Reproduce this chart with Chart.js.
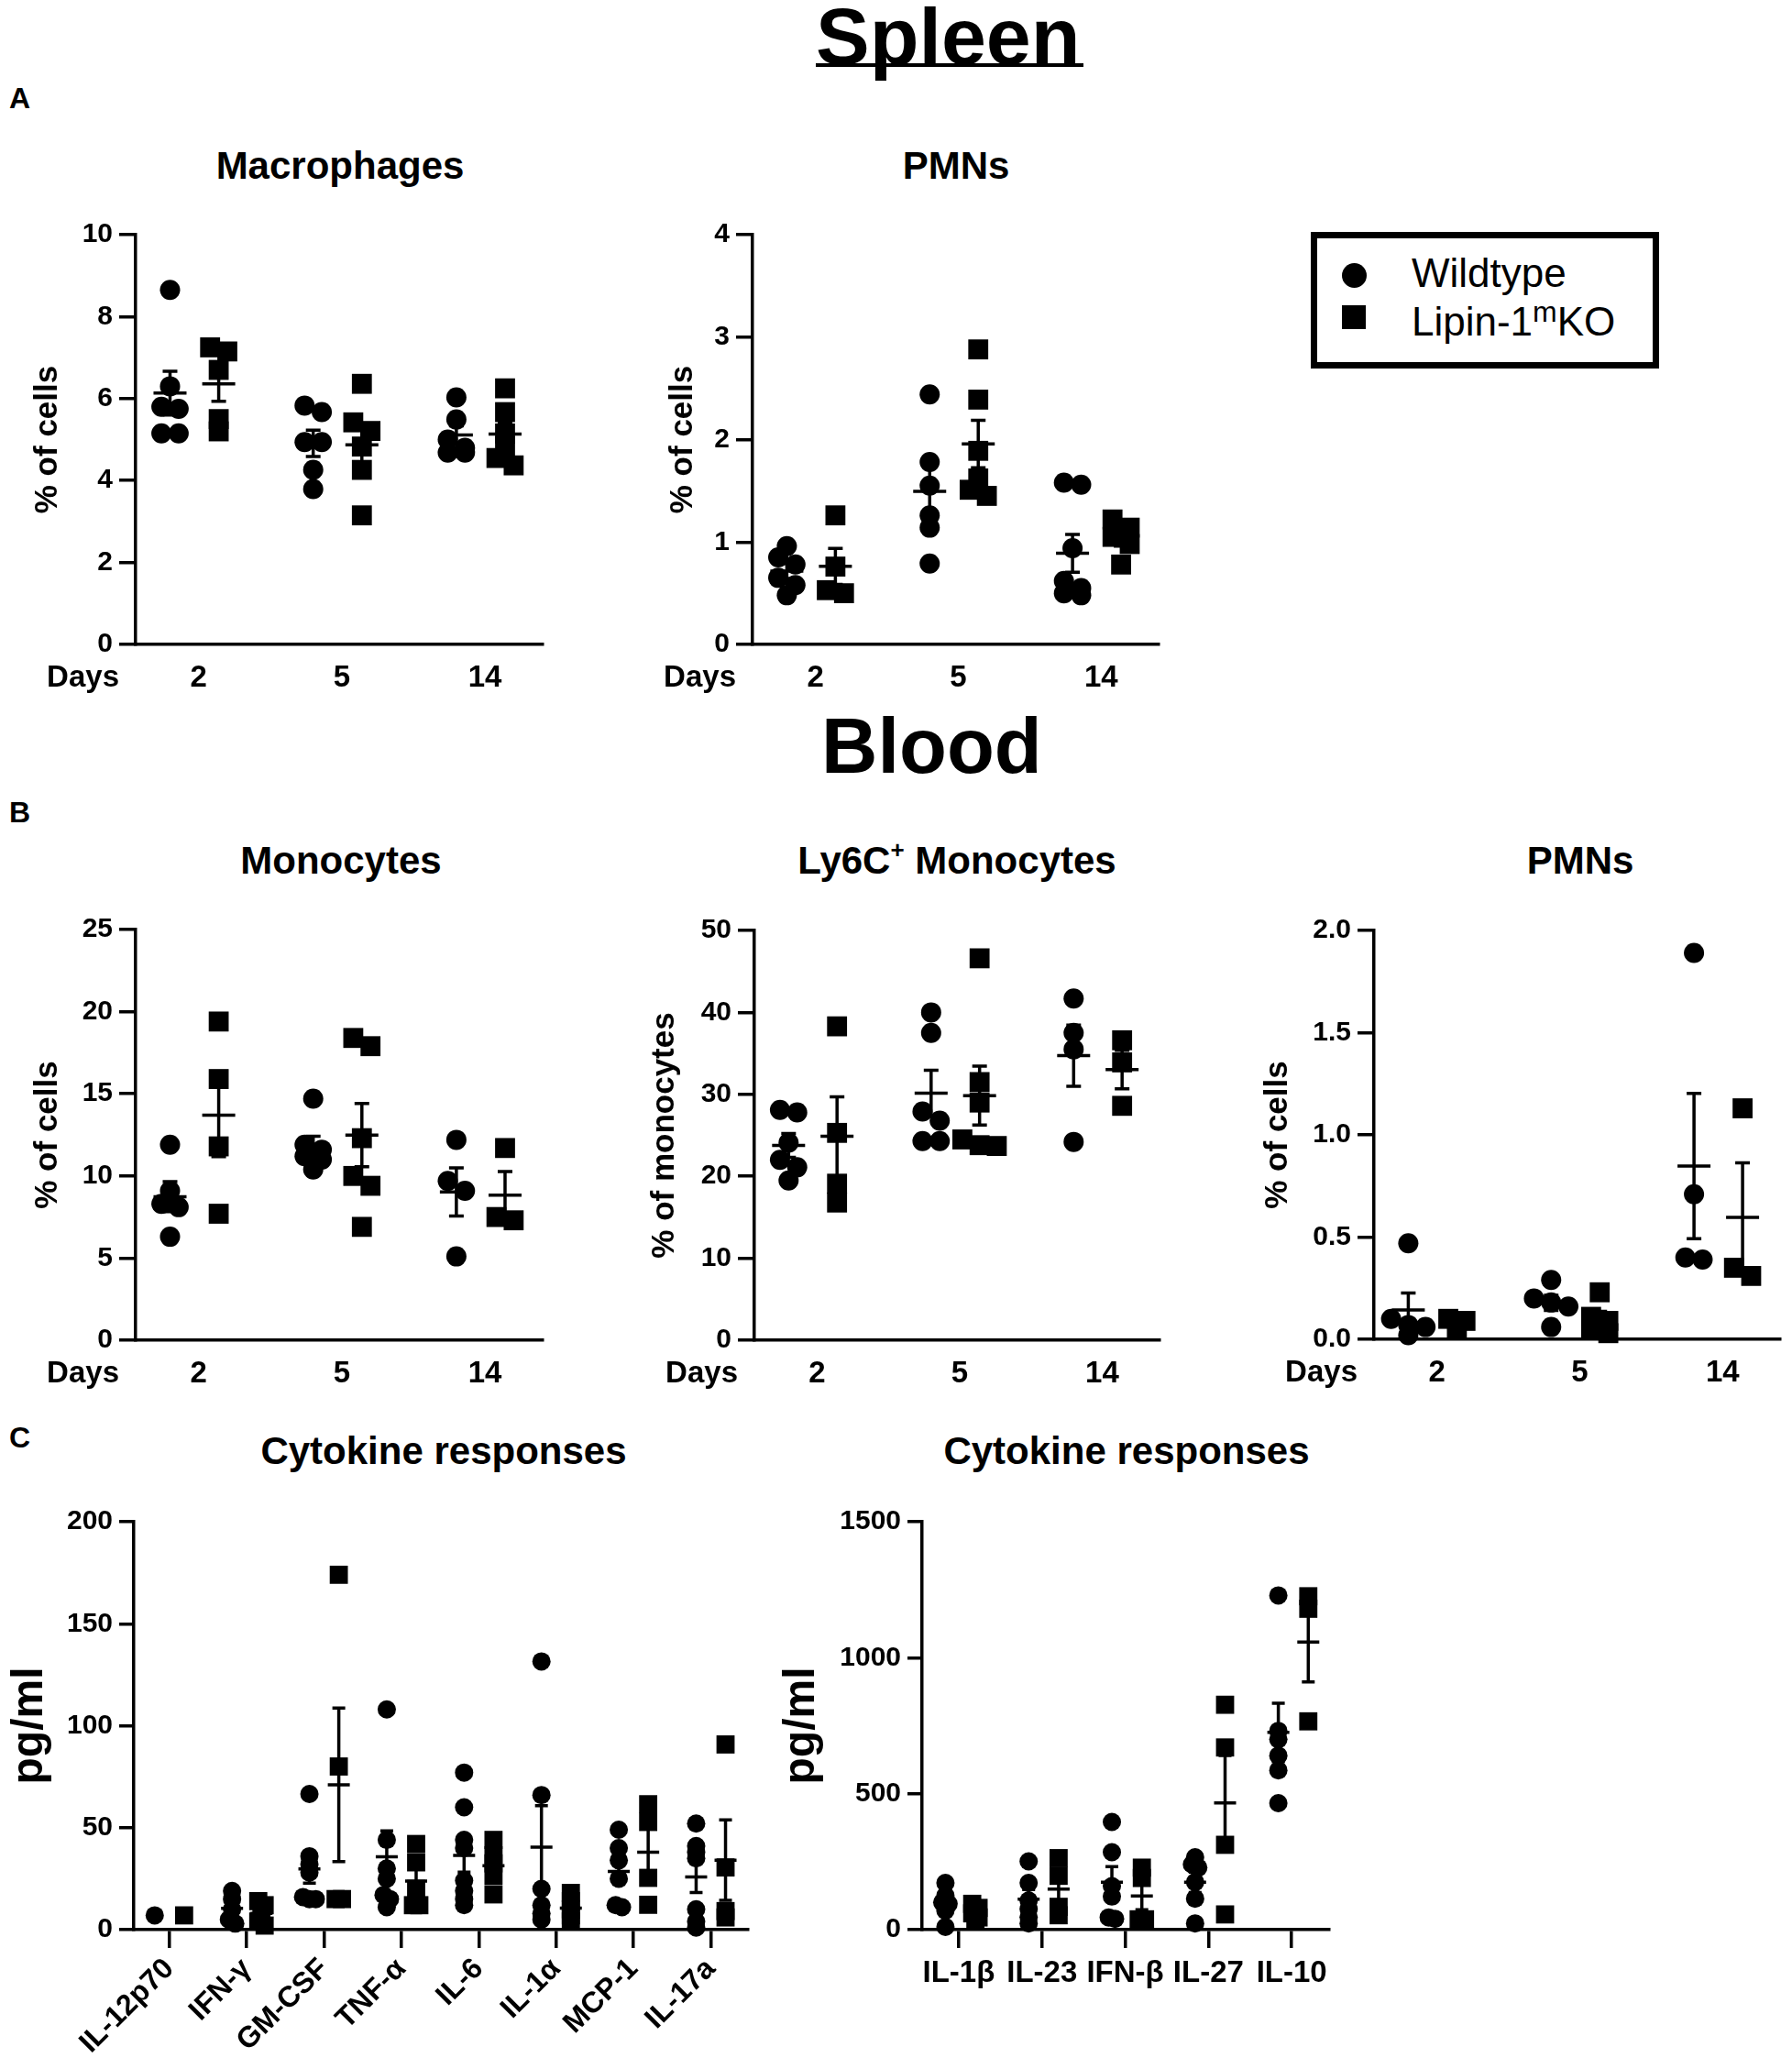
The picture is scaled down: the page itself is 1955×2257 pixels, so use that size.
<!DOCTYPE html>
<html>
<head>
<meta charset="utf-8">
<title>Spleen / Blood / Cytokines</title>
<script src="https://cdn.jsdelivr.net/npm/chart.js@4.4.1/dist/chart.umd.min.js"></script>
<style>
  body { margin: 0; background: #fff; }
  #page { position: relative; width: 1955px; height: 2257px; overflow: hidden; background: #fff;
          font-family: "Liberation Sans", Arial, sans-serif; color: #000; }
  #legend { position: absolute; left: 1430px; top: 253px; width: 380px; height: 149px;
            box-sizing: border-box; border: 7px solid #000; background: #fff; }
  #legend .dot { position: absolute; left: 27px; top: 27px; width: 27px; height: 27px; border-radius: 50%; background: #000; }
  #legend .sq { position: absolute; left: 27px; top: 73px; width: 26px; height: 26px; background: #000; }
  #legend .txt { position: absolute; left: 103px; font-size: 44px; line-height: 1; white-space: nowrap; }
</style>
</head>
<body>
<div id="page">
  <div id="legend">
    <span class="dot"></span>
    <div class="txt" style="top:16px">Wildtype</div>
    <span class="sq"></span>
    <div class="txt" style="top:69px">Lipin-1<span style="font-size:32px;position:relative;top:-15px">m</span>KO</div>
  </div>
</div>
<script>
// ---- data ----
const dayLabels = ['2', '5', '14'];

// Spleen: macrophages (% of cells)
const macroWT = [[8.65, 6.3, 5.8, 5.75, 5.15, 5.15], [5.83, 5.67, 4.94, 4.94, 4.26, 3.79], [6.03, 5.49, 5.0, 4.8, 4.68, 4.68]];
const macroKO = [[7.25, 7.15, 6.7, 5.5, 5.2], [6.36, 5.42, 5.21, 4.83, 4.26, 3.15], [6.25, 5.67, 5.15, 4.83, 4.55, 4.37]];

// Spleen: PMNs (% of cells)
const spleenPmnWT = [[0.96, 0.85, 0.78, 0.65, 0.58, 0.48], [2.44, 1.78, 1.55, 1.26, 1.14, 0.79], [1.58, 1.56, 0.94, 0.62, 0.55, 0.5, 0.48]];
const spleenPmnKO = [[1.26, 0.76, 0.53, 0.5], [2.88, 2.39, 1.89, 1.62, 1.51, 1.45], [1.22, 1.14, 1.05, 0.98, 0.78]];

// Blood: monocytes (% of cells)
const monoWT = [[11.9, 9.1, 8.3, 8.1, 6.3], [14.7, 11.9, 11.6, 11.2, 11.0, 10.4], [12.2, 9.7, 9.1, 5.1]];
const monoKO = [[19.4, 15.9, 11.8, 7.7], [18.4, 17.9, 12.3, 10.0, 9.4, 6.9], [11.7, 7.5, 7.3]];

// Blood: Ly6C+ monocytes (% of monocytes)
const ly6cWT = [[28.1, 27.8, 24.1, 22.0, 21.1, 19.5], [40.0, 37.5, 27.9, 26.8, 24.3, 24.3], [41.7, 37.5, 35.5, 24.2]];
const ly6cKO = [[38.3, 25.3, 19.1, 16.8], [46.6, 31.5, 29.0, 24.5, 23.8, 23.7], [36.6, 33.9, 28.6]];

// Blood: PMNs (% of cells)
const bloodPmnWT = [[0.47, 0.1, 0.07, 0.06, 0.02], [0.29, 0.2, 0.18, 0.16, 0.06], [1.89, 0.71, 0.4, 0.39]];
const bloodPmnKO = [[0.1, 0.09, 0.05], [0.23, 0.11, 0.09, 0.05, 0.03], [1.13, 0.35, 0.31]];

// Cytokines (pg/ml)
const cytoLeftLabels = ['IL-12p70', 'IFN-\u03b3', 'GM-CSF', 'TNF-\u03b1', 'IL-6', 'IL-1\u03b1', 'MCP-1', 'IL-17a'];
const cytoLeftWT = [[7], [19, 15, 10, 5, 3], [66.5, 36, 32, 28, 16, 15, 15], [108, 44, 30, 25, 17, 15, 11],
                    [77, 60, 44, 40, 24, 19, 15, 12], [131.5, 66, 20, 12, 8, 5], [49, 40, 34, 25, 12, 11], [52, 41, 38, 35, 10, 4, 1]];
const cytoLeftKO = [[7], [14, 12, 8, 4, 2], [174, 80, 15, 15], [42, 33, 20, 12, 12],
                    [44, 36.5, 32.5, 26.4, 17.3], [18, 14, 10, 7, 4], [61.5, 52.8, 25.4, 12.2], [90.8, 30.5, 9.1, 6]];

const cytoRightLabels = ['IL-1\u03b2', 'IL-23', 'IFN-\u03b2', 'IL-27', 'IL-10'];
const cytoRightWT = [[172, 125, 100, 95, 70, 10], [251, 172, 107, 76, 46, 23], [396, 285, 160, 122, 45, 40],
                     [266, 240, 228, 175, 114, 23], [1229, 731, 700, 640, 586, 465]];
const cytoRightKO = [[95, 80, 60, 45, 35], [263, 198, 84, 53], [228, 190, 38, 38], [827, 670, 312, 56], [1226, 1180, 766]];

// ---- helpers ----
const FONT = '"Liberation Sans", Arial, sans-serif';
Chart.defaults.font.family = FONT;
Chart.defaults.color = '#000';
const page = document.getElementById('page');

function mean(a) { return a.reduce((s, v) => s + v, 0) / a.length; }
function sem(a) {
  if (a.length < 2) return 0;
  const m = mean(a);
  const v = a.reduce((s, x) => s + (x - m) * (x - m), 0) / (a.length - 1);
  return Math.sqrt(v / a.length);
}

// points with (almost) the same value go side by side in a centred row
function spreadOffsets(values, pxX, pxY, bin, step) {
  const order = values.map((v, i) => i).sort((a, b) => values[b] - values[a]);
  const offs = values.map(() => 0);
  let row = [];
  const flush = () => {
    row.forEach((idx, k) => { offs[idx] = (k - (row.length - 1) / 2) * step / pxX; });
    row = [];
  };
  order.forEach(idx => {
    if (row.length && (values[row[0]] - values[idx]) * pxY >= bin) flush();
    row.push(idx);
  });
  flush();
  return offs;
}

function buildPoints(groups, center, p, pxX, pxY) {
  const pts = [];
  groups.forEach((vals, i) => {
    const offs = spreadOffsets(vals, pxX, pxY, p.bin, p.step);
    vals.forEach((v, j) => pts.push({ x: i + center + offs[j], y: v }));
  });
  return pts;
}

function addText(html, x, base, size, bold, center) {
  const d = document.createElement('div');
  d.innerHTML = html;
  d.style.cssText = 'position:absolute;white-space:nowrap;line-height:1;' +
    'font-size:' + size + 'px;font-weight:' + (bold ? 'bold' : 'normal') + ';' +
    'top:' + (base - 0.8465 * size) + 'px;left:' + x + 'px;' +
    (center ? 'transform:translateX(-50%);' : '');
  page.appendChild(d);
  return d;
}

// mean line + SEM whiskers
const meanSemPlugin = {
  id: 'meanSem',
  afterDatasetsDraw(chart, args, opts) {
    const { ctx } = chart;
    const xs = chart.scales.x, ys = chart.scales.y;
    ctx.save();
    ctx.strokeStyle = '#000';
    ctx.lineWidth = opts.width;
    chart.data.datasets.forEach(ds => {
      ds.groups.forEach((vals, i) => {
        if (vals.length < 2) return;
        const m = mean(vals), e = sem(vals);
        const px = xs.getPixelForValue(i + ds.center);
        const pm = ys.getPixelForValue(m);
        const pt = ys.getPixelForValue(m + e);
        const pb = ys.getPixelForValue(Math.max(m - e, 0));
        ctx.beginPath();
        ctx.moveTo(px - opts.half, pm); ctx.lineTo(px + opts.half, pm);
        ctx.moveTo(px, pt); ctx.lineTo(px, pb);
        ctx.moveTo(px - opts.cap, pt); ctx.lineTo(px + opts.cap, pt);
        ctx.moveTo(px - opts.cap, pb); ctx.lineTo(px + opts.cap, pb);
        ctx.stroke();
      });
    });
    ctx.restore();
  }
};

// "Days" caption left of the x tick labels
const daysPlugin = {
  id: 'daysLabel',
  afterDraw(chart, args, opts) {
    if (!opts.text) return;
    const { ctx, chartArea } = chart;
    ctx.save();
    ctx.font = 'bold 33px ' + FONT;
    ctx.fillStyle = '#000';
    ctx.textAlign = 'right';
    ctx.textBaseline = 'middle';
    ctx.fillText(opts.text, chartArea.left - 18, chartArea.bottom + 37);
    ctx.restore();
  }
};

function makePanel(p) {
  const padTop = 24, padRight = 10;
  const yTitleSize = p.yTitleSize || 35;
  const left = Math.round(p.yTitleCx - yTitleSize * 0.6);
  const yw = p.ax - left;
  const canvasTop = p.top - padTop;
  const W = Math.round(p.right - left + padRight);
  const H = Math.round(p.bottom + p.xh - canvasTop);

  const cv = document.createElement('canvas');
  cv.width = W; cv.height = H;
  cv.style.cssText = 'position:absolute;left:' + left + 'px;top:' + canvasTop + 'px;width:' + W + 'px;height:' + H + 'px;';
  page.appendChild(cv);

  addText(p.title, p.titleCx, p.titleBase, 42, true, true);

  const pxX = (p.right - p.ax) / (p.xMax - p.xMin);
  const pxY = (p.bottom - p.top) / p.yMax;

  new Chart(cv.getContext('2d'), {
    type: 'scatter',
    data: {
      datasets: [
        { label: 'Wildtype', data: buildPoints(p.wt, p.wtPos, p, pxX, pxY), groups: p.wt, center: p.wtPos,
          pointStyle: 'circle', pointRadius: p.r, pointHoverRadius: p.r, backgroundColor: '#000', borderWidth: 0, clip: false },
        { label: 'Lipin-1mKO', data: buildPoints(p.ko, p.koPos, p, pxX, pxY), groups: p.ko, center: p.koPos,
          pointStyle: 'rect', pointRadius: p.r * 1.4, pointHoverRadius: p.r * 1.4, backgroundColor: '#000', borderWidth: 0, clip: false }
      ]
    },
    options: {
      responsive: false,
      animation: false,
      devicePixelRatio: 1,
      layout: { padding: { top: padTop, right: padRight, left: 0, bottom: 0 } },
      plugins: {
        legend: { display: false },
        tooltip: { enabled: false },
        meanSem: { width: 3.5, half: p.meanHalf, cap: p.capHalf },
        daysLabel: { text: p.days ? 'Days' : '' }
      },
      scales: {
        x: {
          type: 'linear', min: p.xMin, max: p.xMax,
          afterBuildTicks: s => { s.ticks = p.labels.map((_, i) => ({ value: i })); },
          afterFit: s => { s.height = p.xh; },
          border: { display: true, color: '#000', width: 3.5 },
          grid: { display: p.xTicks, drawTicks: p.xTicks, drawOnChartArea: false, tickLength: 20,
                  lineWidth: 3.5, tickWidth: 3.5, color: '#000', tickColor: '#000' },
          ticks: { autoSkip: false, font: { size: p.xFont || 33, weight: 'bold' }, color: '#000',
                   padding: p.xPad, maxRotation: p.rot, minRotation: p.rot,
                   callback: v => p.labels[Math.round(v)] }
        },
        y: {
          min: 0, max: p.yMax,
          afterFit: s => { s.width = yw; },
          border: { display: true, color: '#000', width: 3.5 },
          grid: { drawOnChartArea: false, drawTicks: true, tickLength: p.yTick || 18,
                  lineWidth: 3.5, tickWidth: 3.5, color: '#000', tickColor: '#000' },
          ticks: { stepSize: p.yStep, font: { size: 30, weight: 'bold' }, color: '#000', padding: 7,
                   callback: v => p.yDec ? v.toFixed(p.yDec) : v },
          title: { display: true, text: p.yTitle, color: '#000', padding: 0,
                   font: { size: yTitleSize, weight: 'bold' } }
        }
      }
    },
    plugins: [meanSemPlugin, daysPlugin]
  });
}

// ---- headings ----
addText('Spleen', 890, 70, 88, true, false);
const ul = document.createElement('div');
ul.style.cssText = 'position:absolute;left:890px;top:69px;width:292px;height:4px;background:#000;';
page.appendChild(ul);
addText('A', 10, 118, 32, true, false);
addText('Blood', 896, 843, 85, true, false);
addText('B', 10, 897, 32, true, false);
addText('C', 10, 1579, 32, true, false);

// ---- panels ----
const dayBase = { labels: dayLabels, xMin: -0.44, xMax: 2.4, wtPos: -0.2, koPos: 0.14, xh: 70, xPad: 17,
                  rot: 0, xTicks: false, days: true, r: 11, meanHalf: 18, capHalf: 8, bin: 11, step: 19 };
const cytoBase = { yTitleSize: 48, yTitle: 'pg/ml', yTick: 16, xTicks: true, days: false,
                   r: 10, meanHalf: 12, capHalf: 7, bin: 6, step: 7 };

makePanel(Object.assign({}, dayBase, { title: 'Macrophages', titleCx: 371, titleBase: 196,
  ax: 148, top: 255, bottom: 703, right: 597, yTitleCx: 52, yMax: 10, yStep: 2, yTitle: '% of cells',
  wt: macroWT, ko: macroKO }));
makePanel(Object.assign({}, dayBase, { title: 'PMNs', titleCx: 1043, titleBase: 196,
  ax: 821, top: 255, bottom: 703, right: 1269, yTitleCx: 745, yMax: 4, yStep: 1, yTitle: '% of cells',
  wt: spleenPmnWT, ko: spleenPmnKO }));
makePanel(Object.assign({}, dayBase, { title: 'Monocytes', titleCx: 372, titleBase: 954,
  ax: 148, top: 1013, bottom: 1462, right: 597, yTitleCx: 52, yMax: 25, yStep: 5, yTitle: '% of cells',
  wt: monoWT, ko: monoKO }));
makePanel(Object.assign({}, dayBase, {
  title: 'Ly6C<span style="font-size:26px;position:relative;top:-17px">+</span> Monocytes', titleCx: 1044, titleBase: 954,
  ax: 823, top: 1014, bottom: 1462, right: 1270, yTitleCx: 725, yMax: 50, yStep: 10, yTitle: '% of monocytes',
  wt: ly6cWT, ko: ly6cKO }));
makePanel(Object.assign({}, dayBase, { title: 'PMNs', titleCx: 1724, titleBase: 954,
  ax: 1499, top: 1014, bottom: 1461, right: 1947, yTitleCx: 1394, yMax: 2, yStep: 0.5, yDec: 1, yTitle: '% of cells',
  wt: bloodPmnWT, ko: bloodPmnKO }));

makePanel(Object.assign({}, cytoBase, { title: 'Cytokine responses', titleCx: 484, titleBase: 1598,
  ax: 146, top: 1659, bottom: 2105, right: 820, yTitleCx: 33,
  yMax: 200, yStep: 50, labels: cytoLeftLabels, xMin: -0.46, xMax: 7.48, wtPos: -0.19, koPos: 0.19,
  xh: 175, xPad: 4, xFont: 32, rot: 45,
  wt: cytoLeftWT, ko: cytoLeftKO }));
makePanel(Object.assign({}, cytoBase, { title: 'Cytokine responses', titleCx: 1229, titleBase: 1598,
  ax: 1006, top: 1659, bottom: 2105, right: 1454, yTitleCx: 875,
  yMax: 1500, yStep: 500, labels: cytoRightLabels, xMin: -0.44, xMax: 4.45, wtPos: -0.16, koPos: 0.2,
  xh: 80, xPad: 8, xFont: 33, rot: 0,
  wt: cytoRightWT, ko: cytoRightKO }));
</script>
</body>
</html>
